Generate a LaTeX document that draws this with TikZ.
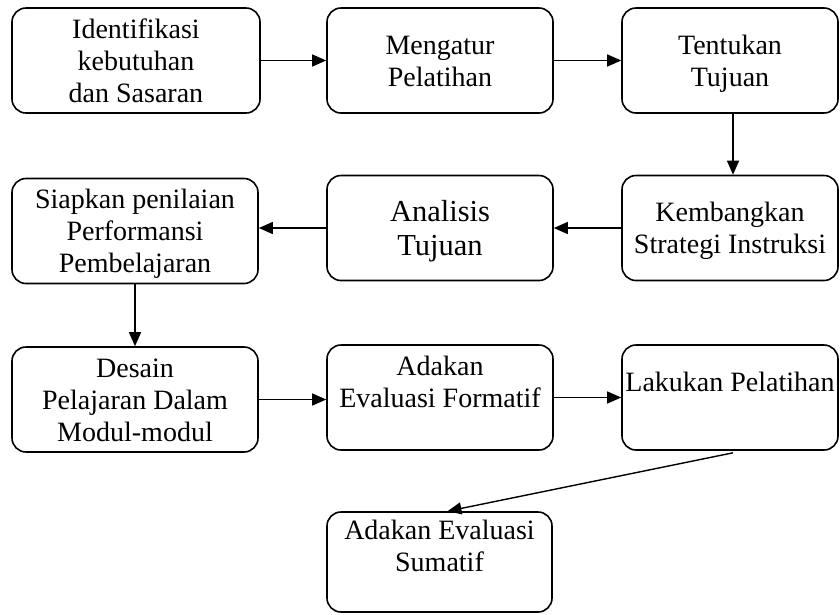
\documentclass[tikz,border=0pt]{standalone}
\usepackage{fontspec}
\setmainfont{Liberation Serif}
\usetikzlibrary{arrows.meta}
% line struts so every text line takes the same height
\newcommand\ls{\rule[-6.25pt]{0pt}{32pt}}
\newcommand\lsb{\rule[-6.5pt]{0pt}{34pt}}

\begin{document}
\begin{tikzpicture}[x=1pt,y=-1pt,
  stagebox/.style={draw, line width=1.6pt, rounded corners=14pt, inner sep=0pt,
    align=center, font=\fontsize{28}{32}\selectfont},
  flow/.style={line width=1.4pt, -{Triangle[length=14pt,width=12pt]}}]
\useasboundingbox (0,0) rectangle (840,614);

% row 1
\node[stagebox, minimum width=248pt, minimum height=105pt] (A) at (136,60.5)
  {\ls Identifikasi\\\ls kebutuhan\\\ls dan Sasaran};
\node[stagebox, minimum width=226pt, minimum height=105pt] (B) at (440,60.5)
  {\ls Mengatur\\\ls Pelatihan};
\node[stagebox, minimum width=216pt, minimum height=105pt] (C) at (730,60.5)
  {\ls Tentukan\\\ls Tujuan};

% row 2
\node[stagebox, minimum width=246pt, minimum height=105pt] (D) at (135,231)
  {\ls Siapkan penilaian\\\ls Performansi\\\ls Pembelajaran};
\node[stagebox, minimum width=226pt, minimum height=105pt,
  font=\fontsize{30.5}{34}\selectfont] (E) at (440,228)
  {\lsb Analisis\\\lsb Tujuan};
\node[stagebox, minimum width=216pt, minimum height=105pt] (F) at (730,228)
  {\ls Kembangkan\\\ls Strategi Instruksi};

% row 3
\node[stagebox, minimum width=246pt, minimum height=105pt] (G) at (135,399.5)
  {\ls Desain\\\ls Pelajaran Dalam\\\ls Modul-modul};
\node[stagebox, minimum width=226pt, minimum height=105pt] (H) at (440,397.5)
  {\ls Adakan\\\ls Evaluasi Formatif\\\ls};
\node[stagebox, minimum width=216pt, minimum height=105pt] (I) at (730,397.5)
  {\ls Lakukan Pelatihan\\\ls};

% row 4
\node[stagebox, minimum width=225pt, minimum height=100pt] (J) at (439.5,562)
  {\ls Adakan Evaluasi\\\ls Sumatif\\\ls};

% connectors
\draw[flow] (A.east) -- (B.west);
\draw[flow] (B.east) -- (C.west);
\draw[flow] ([xshift=3pt]C.south) -- ([xshift=3pt]F.north);
\draw[flow] (F.west) -- (E.east);
\draw[flow] (E.west) -- (E.west -| D.east);
\draw[flow] (D.south) -- (G.north);
\draw[flow] (G.east) -- (G.east -| H.west);
\draw[flow] (H.east) -- (I.west);
\draw[flow] ([xshift=3pt,yshift=-2pt]I.south) -- ([xshift=8pt]J.north);
\end{tikzpicture}
\end{document}
